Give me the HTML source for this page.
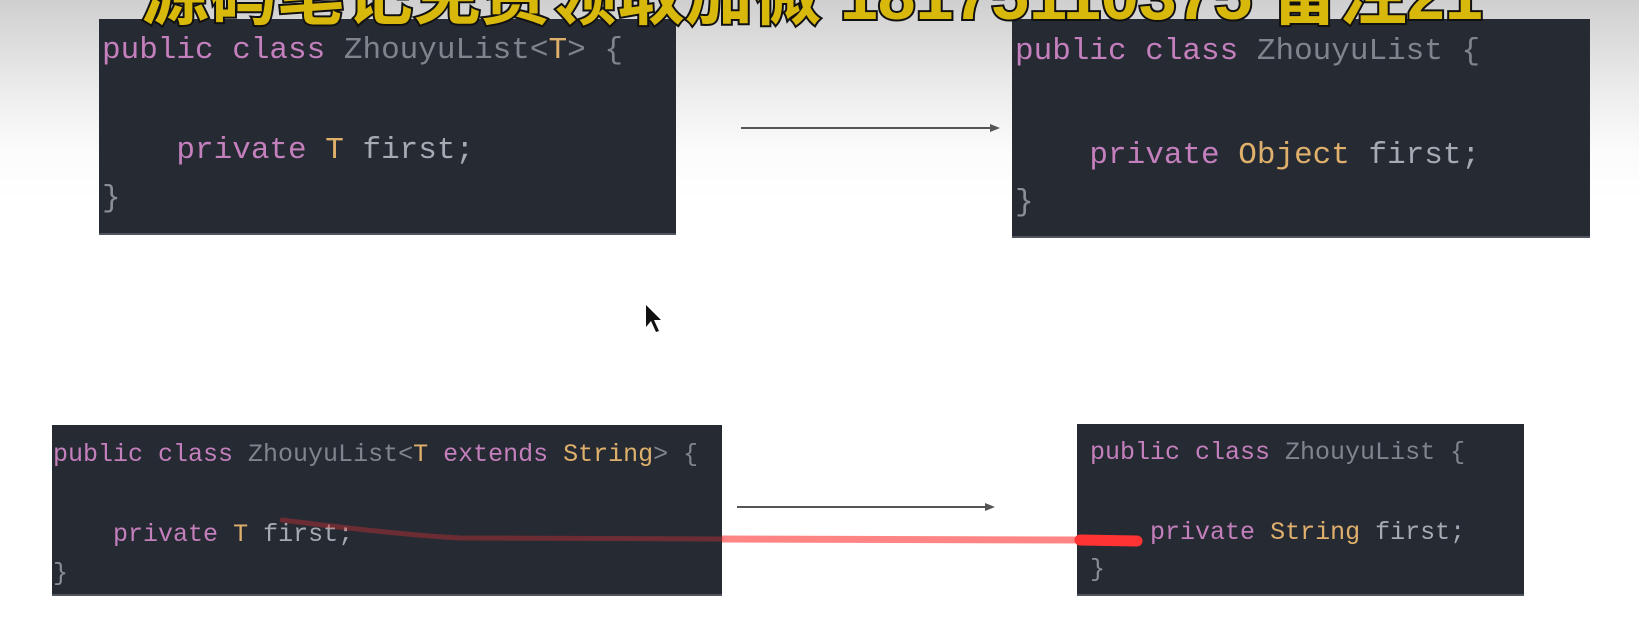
<!DOCTYPE html>
<html><head><meta charset="utf-8"><style>
body{margin:0;width:1639px;height:640px;overflow:hidden;position:relative;background:linear-gradient(#cfcfcf 0px,#ececec 90px,#fbfbfb 150px,#fff 200px,#fff 640px);font-family:"Liberation Mono",monospace}
.box{position:absolute;background:#262a33;border-bottom:2px solid #50545c}
.l{position:absolute;white-space:pre;color:#a4abb3;left:3px}
.k{color:#c47fbd}.n{color:#80858d}.t{color:#dfb06c}
.title{position:absolute;left:141px;top:-60px;font:bold 68px "Liberation Sans","Noto Sans CJK SC",sans-serif;color:#d9b80c;-webkit-text-stroke:4px #111;paint-order:stroke fill;white-space:nowrap}
</style></head><body>
<div class="box" style="left:99px;top:19px;width:577px;height:214px;font-size:31px">
<div class="l" style="top:14px"><span class="k">public class</span> <span class="n">ZhouyuList&lt;</span><span class="t">T</span><span class="n">&gt; {</span></div>
<div class="l" style="top:114px">    <span class="k">private</span> <span class="t">T</span> first;</div>
<div class="l" style="top:162px;color:#8a8f97">}</div>
</div>
<div class="box" style="left:1012px;top:19px;width:578px;height:217px;font-size:31px">
<div class="l" style="top:15px"><span class="k">public class</span> <span class="n">ZhouyuList {</span></div>
<div class="l" style="top:119px">    <span class="k">private</span> <span class="t">Object</span> first;</div>
<div class="l" style="top:166px;color:#8a8f97">}</div>
</div>
<div class="box" style="left:52px;top:425px;width:670px;height:169px;font-size:25px">
<div class="l" style="top:15px;left:1px"><span class="k">public class</span> <span class="n">ZhouyuList&lt;</span><span class="t">T</span> <span class="k">extends</span> <span class="t">String</span><span class="n">&gt; {</span></div>
<div class="l" style="top:95px;left:1px">    <span class="k">private</span> <span class="t">T</span> first;</div>
<div class="l" style="top:134px;left:1px;color:#8a8f97">}</div>
</div>
<div class="box" style="left:1077px;top:424px;width:447px;height:170px;font-size:25px">
<div class="l" style="top:14px;left:13px"><span class="k">public class</span> <span class="n">ZhouyuList {</span></div>
<div class="l" style="top:94px;left:13px">    <span class="k">private</span> <span class="t">String</span> first;</div>
<div class="l" style="top:131px;left:13px;color:#8a8f97">}</div>
</div>
<svg style="position:absolute;left:0;top:0" width="1639" height="640">
<line x1="741" y1="128" x2="992" y2="128" stroke="#555" stroke-width="2"/>
<polygon points="1000,128 990,124 990,132" fill="#555"/>
<line x1="737" y1="507" x2="987" y2="507" stroke="#555" stroke-width="2"/>
<polygon points="995,507 985,503 985,511" fill="#555"/>
<path d="M282,520 Q400,535 460,538 L722,539" stroke="#e33" stroke-opacity="0.35" stroke-width="5" fill="none" stroke-linecap="round"/>
<path d="M722,539 L1080,540" stroke="#f66" stroke-opacity="0.8" stroke-width="7" fill="none"/>
<path d="M1080,540 L1137,541" stroke="#f33" stroke-width="11" fill="none" stroke-linecap="round"/>
<path d="M646,305 L646,327 L651,321 L656,332 L659,331 L654,320 L661,320 Z" fill="#111"/>
</svg>
<div class="title">源码笔记免费领取加微 18175110375 备注21</div>
</body></html>
